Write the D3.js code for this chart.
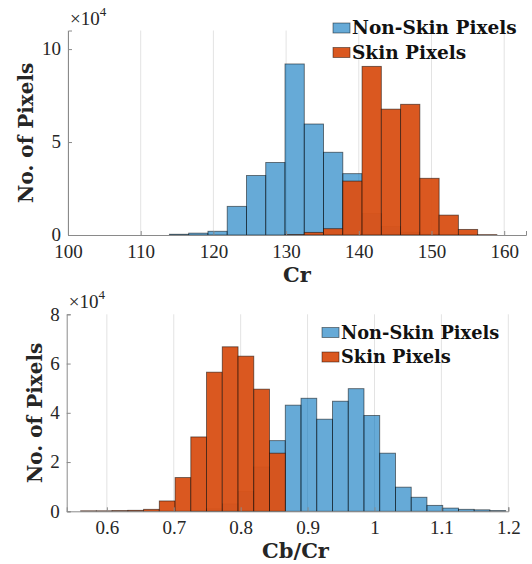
<!DOCTYPE html>
<html>
<head>
<meta charset="utf-8">
<script src="https://cdn.jsdelivr.net/npm/d3@7"></script>
<style>
  html, body { margin: 0; padding: 0; background: #ffffff; }
  svg { display: block; }
</style>
</head>
<body>
<svg id="chart" width="532" height="564"></svg>
<script>
// values are in units of 10^4 pixels
var crEdges = [113.95, 116.6, 119.25, 121.9, 124.55, 127.2, 129.85, 132.5, 135.15, 137.8,
  140.45, 143.1, 145.75, 148.4, 151.05, 153.7, 156.35, 159.0];
var crNonSkin = [0.04, 0.1, 0.2, 1.54, 3.2, 3.9, 9.2, 5.97, 4.45, 3.3, 1.15, 0.45, 0.15, 0.05, 0.02, 0.01, 0.0];
var crSkin = [0.0, 0.0, 0.0, 0.0, 0.0, 0.0, 0.02, 0.14, 0.34, 2.9, 9.07, 6.77, 7.03, 3.05, 1.07, 0.3, 0.02];
var crXTicks = [100, 110, 120, 130, 140, 150, 160];
var crYTicks = [0, 5, 10];

var ratioEdges = [0.5608, 0.5843, 0.6078, 0.6314, 0.6549, 0.6784, 0.7020, 0.7255, 0.7490, 0.7725,
  0.7961, 0.8196, 0.8431, 0.8667, 0.8902, 0.9137, 0.9373, 0.9608, 0.9843, 1.0078,
  1.0314, 1.0549, 1.0784, 1.1020, 1.1255, 1.1490, 1.1725, 1.1961];
var ratioNonSkin = [0.0, 0.0, 0.0, 0.0, 0.0, 0.0, 0.0, 0.02, 0.1, 0.3, 0.8, 1.8, 2.87, 4.31, 4.59, 3.74,
  4.47, 4.98, 3.89, 2.36, 0.98, 0.57, 0.24, 0.13, 0.08, 0.06, 0.03];
var ratioSkin = [0.02, 0.02, 0.03, 0.04, 0.08, 0.42, 1.37, 3.02, 5.65, 6.68, 6.3, 4.96, 2.36, 0.0, 0.0, 0.0,
  0.0, 0.0, 0.0, 0.0, 0.0, 0.0, 0.0, 0.0, 0.0, 0.0, 0.0];
var ratioXTicks = [0.6, 0.7, 0.8, 0.9, 1.0, 1.1, 1.2];
var ratioYTicks = [0, 2, 4, 6, 8];

var seriesNames = ["Non-Skin Pixels", "Skin Pixels"];

var tickFont = "'Liberation Serif', 'Times New Roman', Times, serif";
var boldFont = "'DejaVu Serif', serif";

var svg = d3.select("#chart");

var drawHist = function(opts) {
  var x = d3.scaleLinear().domain(opts.xDomain).range([opts.left, opts.right]);
  var y = d3.scaleLinear().domain(opts.yDomain).range([opts.bottom, opts.top]);
  var g = svg.append("g");

  // vertical grid
  g.append("g").selectAll("line").data(opts.xTicks).enter().append("line")
    .attr("x1", function(d) { return x(d) }).attr("x2", function(d) { return x(d) })
    .attr("y1", opts.top).attr("y2", opts.bottom)
    .attr("stroke", "#e3e3e3").attr("stroke-width", 1);

  var series = [
    { values: opts.nonSkin, fill: "#0072BD", opacity: 0.6 },
    { values: opts.skin, fill: "#D95319", opacity: 0.97 }
  ];

  series.forEach(function(s) {
    var bins = s.values.map(function(v, i) {
      return { x0: opts.edges[i], x1: opts.edges[i + 1], v: v };
    }).filter(function(b) { return b.v > 0; });
    g.append("g").selectAll("rect").data(bins).enter().append("rect")
      .attr("x", function(d) { return x(d.x0) })
      .attr("width", function(d) { return x(d.x1) - x(d.x0) })
      .attr("y", function(d) { return y(d.v) })
      .attr("height", function(d) { return y(0) - y(d.v) })
      .attr("fill", s.fill)
      .attr("fill-opacity", s.opacity)
      .attr("stroke", "#000000")
      .attr("stroke-opacity", 0.55)
      .attr("stroke-width", 0.9);
  });

  // axes
  var xAxis = d3.axisBottom(x).tickValues(opts.xTicks).tickSize(-4).tickPadding(6)
    .tickFormat(function(d) { return d3.format("~g")(d) });
  var yAxis = d3.axisLeft(y).tickValues(opts.yTicks).tickSize(-4).tickPadding(7)
    .tickFormat(function(d) { return d3.format("~g")(d) });

  var xg = g.append("g").attr("transform", "translate(0," + opts.bottom + ")").call(xAxis);
  var yg = g.append("g").attr("transform", "translate(" + opts.left + ",0)").call(yAxis);
  [xg, yg].forEach(function(a) {
    a.attr("font-family", tickFont).attr("font-size", 19);
    a.select(".domain").attr("stroke", "#8a8a8a").attr("stroke-width", 1);
    a.selectAll(".tick line").attr("stroke", "#8a8a8a");
    a.selectAll(".tick text").attr("fill", "#262626")
      .style("font-family", tickFont).style("font-size", "19px");
  });
  xg.selectAll(".tick text").attr("dy", "0.9em");
  yg.selectAll(".tick text").attr("dy", "0.3em");

  // exponent
  var ex = g.append("text")
    .style("font-family", tickFont).style("font-size", "19px").attr("fill", "#262626")
    .attr("x", opts.left + 2).attr("y", opts.top - 6);
  ex.append("tspan").text("\u00d710");
  ex.append("tspan").attr("dy", -9).style("font-size", "13px").text("4");

  g.append("text")
    .style("font-family", boldFont).style("font-weight", "bold").style("font-size", "21px")
    .attr("fill", "#262626")
    .attr("text-anchor", "middle")
    .attr("x", (opts.left + opts.right) / 2 + opts.xLabelShift)
    .attr("y", opts.bottom + opts.xLabelOffset)
    .text(opts.xLabel);

  g.append("text")
    .style("font-family", boldFont).style("font-weight", "bold").style("font-size", "20px")
    .attr("fill", "#262626")
    .attr("text-anchor", "middle")
    .attr("transform", "translate(" + opts.yLabelX + "," + ((opts.top + opts.bottom) / 2) + ") rotate(-90)")
    .text("No.  of Pixels");

  // legend
  var lg = g.append("g").attr("transform", "translate(" + opts.legendX + "," + opts.legendY + ")");
  seriesNames.forEach(function(name, i) {
    lg.append("rect")
      .attr("x", 0).attr("y", i * 24.5)
      .attr("width", 17).attr("height", 10)
      .attr("fill", series[i].fill).attr("fill-opacity", series[i].opacity)
      .attr("stroke", "#000").attr("stroke-opacity", 0.55).attr("stroke-width", 0.8);
    lg.append("text")
      .style("font-family", boldFont).style("font-weight", "bold").style("font-size", opts.legendSize + "px")
      .attr("fill", "#111111")
      .attr("x", 19).attr("y", i * 24.5 + 11)
      .text(name);
  });
};

drawHist({
  edges: crEdges, nonSkin: crNonSkin, skin: crSkin,
  xDomain: [100, 163], yDomain: [0, 11],
  xTicks: crXTicks, yTicks: crYTicks,
  left: 68, right: 526, top: 30.5, bottom: 235,
  xLabel: "Cr", xLabelShift: 0, xLabelOffset: 47, yLabelX: 33,
  legendX: 333, legendY: 23, legendSize: 18.5
});

drawHist({
  edges: ratioEdges, nonSkin: ratioNonSkin, skin: ratioSkin,
  xDomain: [0.54, 1.2], yDomain: [0, 8],
  xTicks: ratioXTicks, yTicks: ratioYTicks,
  left: 66.7, right: 508.3, top: 314.3, bottom: 511.3,
  xLabel: "Cb/Cr", xLabelShift: 8, xLabelOffset: 47, yLabelX: 42,
  legendX: 322, legendY: 327.5, legendSize: 17.8
});
</script>
</body>
</html>
